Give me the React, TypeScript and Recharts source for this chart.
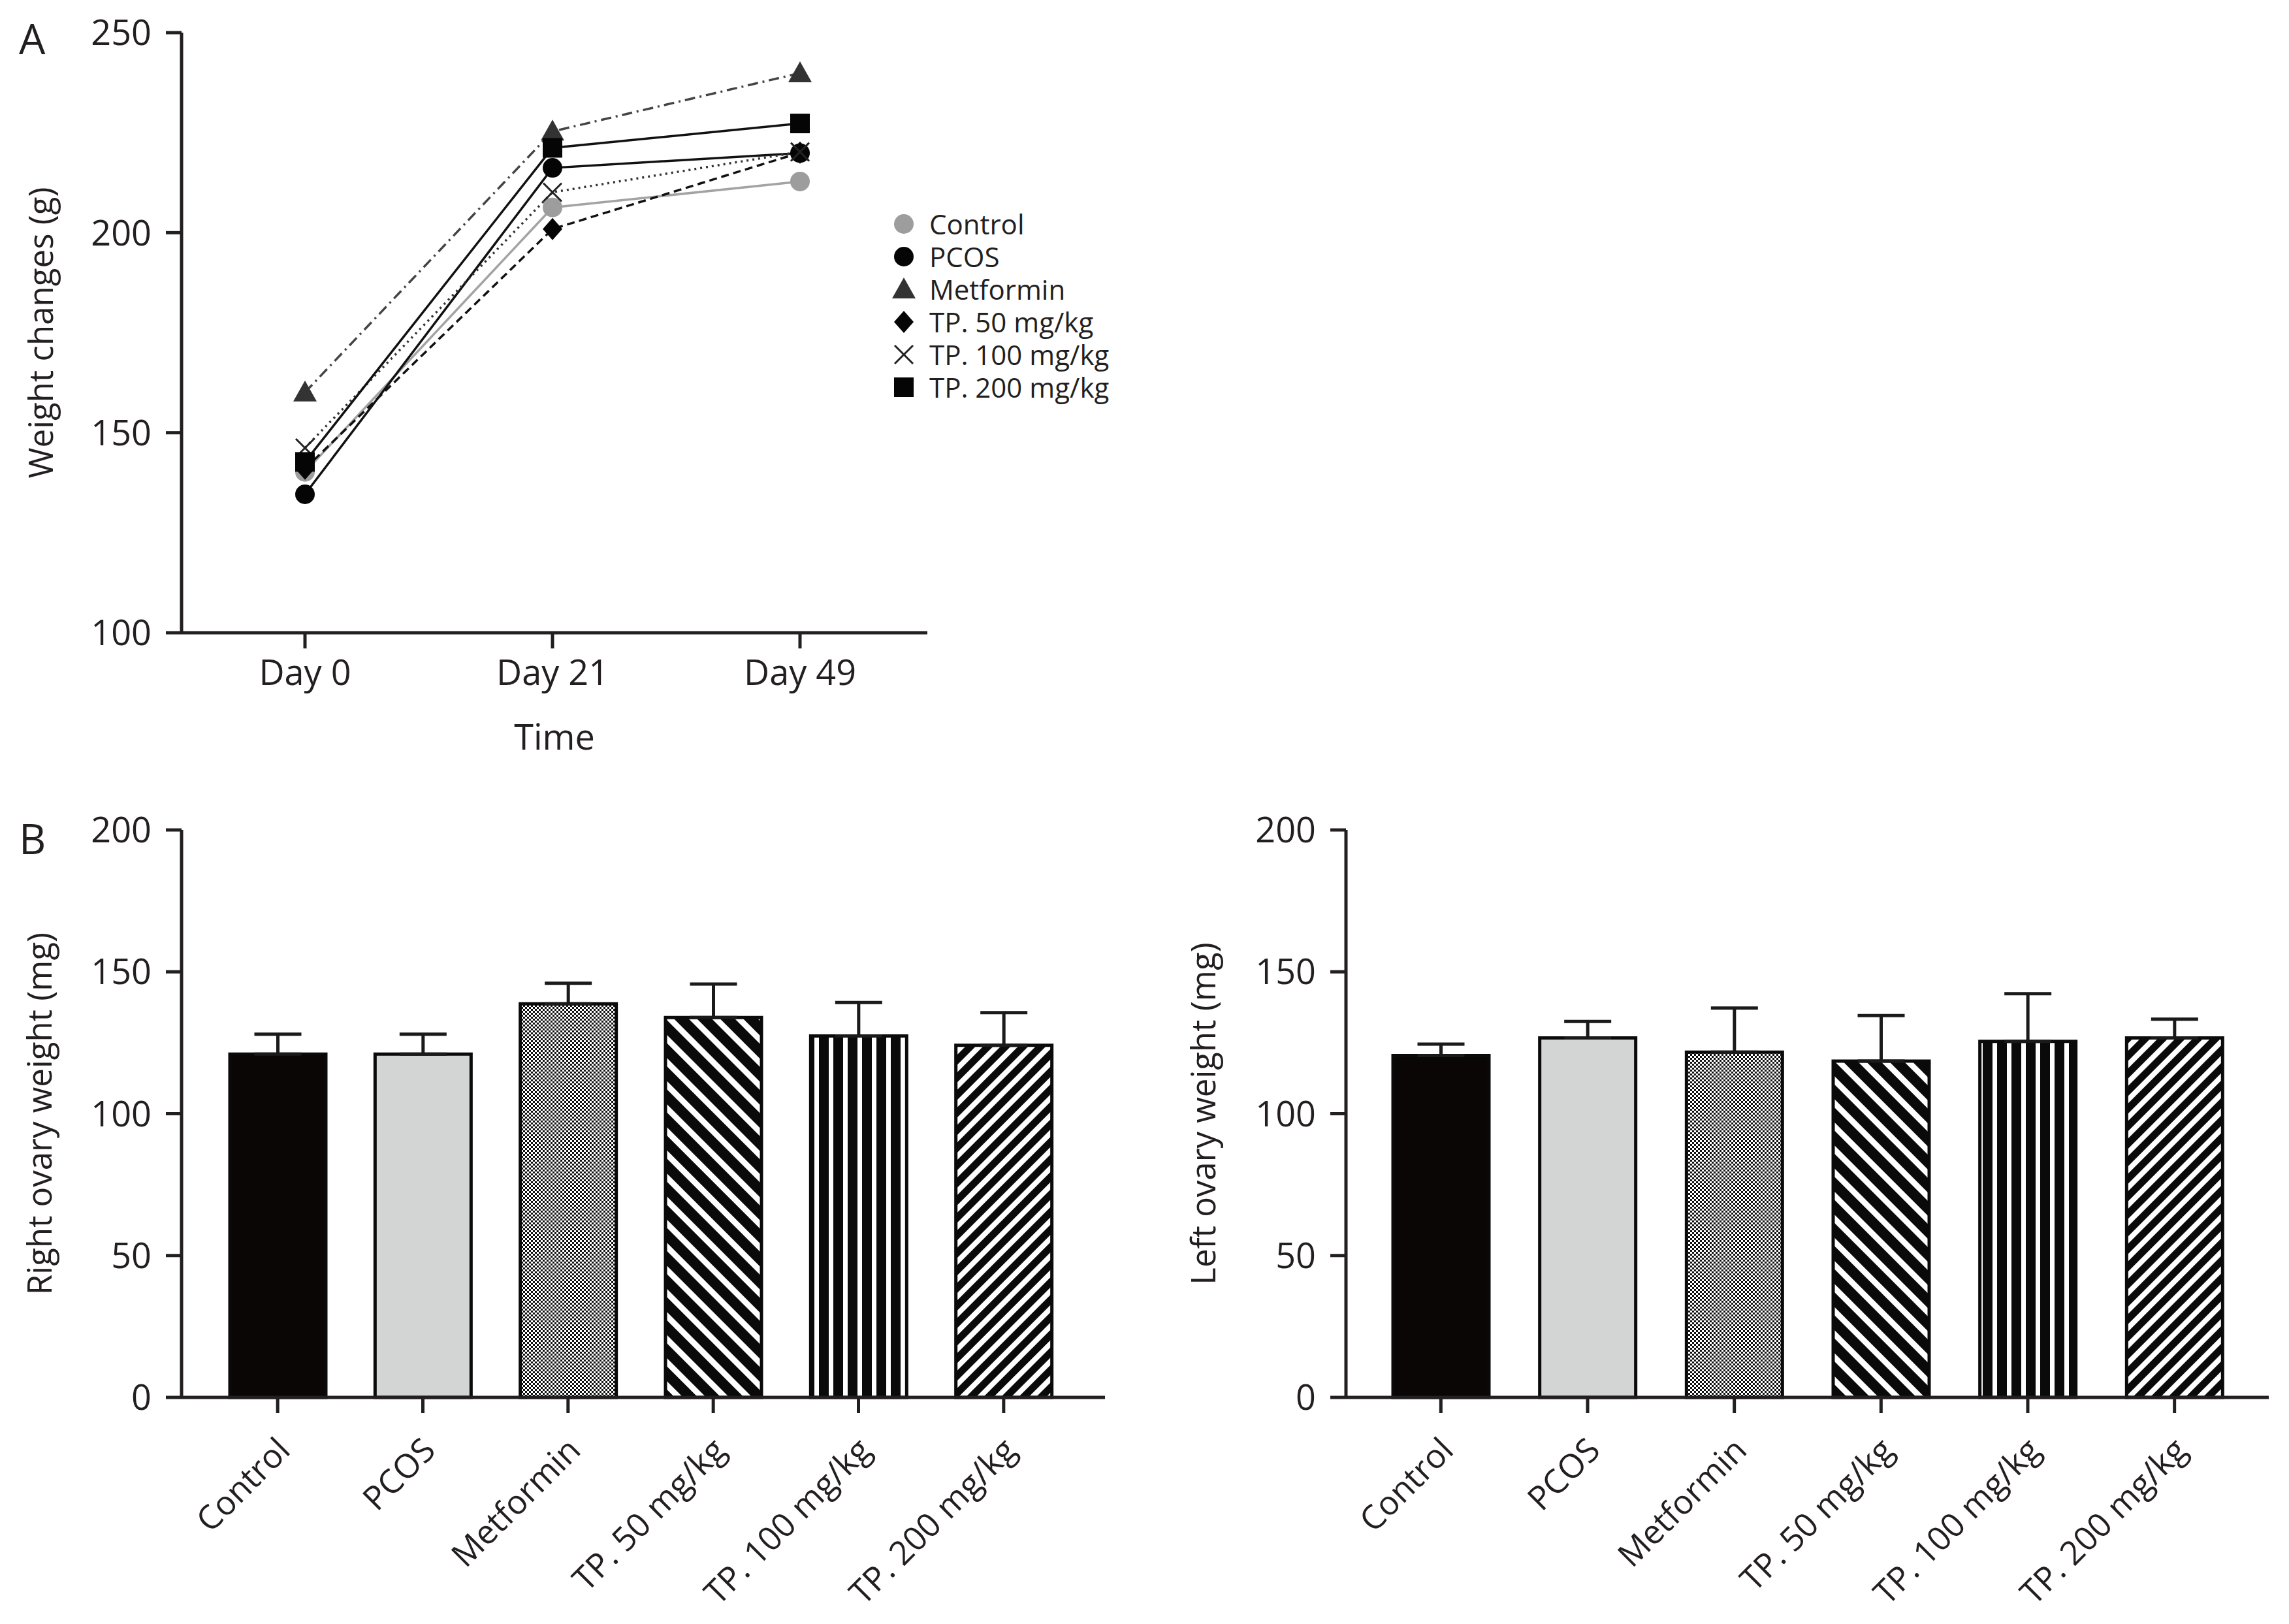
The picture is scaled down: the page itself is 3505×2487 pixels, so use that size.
import React from 'react';
import {
  LineChart,
  Line,
  BarChart,
  Bar,
  Cell,
  ErrorBar,
  XAxis,
  YAxis,
  Legend,
} from 'recharts';

const FONT = "'Open Sans', sans-serif";
const INK = '#231f20';

// panel A: body weight over time (g)
const days = ['Day 0', 'Day 21', 'Day 49'];
const control = [140.2, 206.3, 212.8];
const pcos = [134.6, 216.2, 219.9];
const metformin = [160.1, 225.3, 239.9];
const tp50 = [141.0, 200.9, 220.0];
const tp100 = [146.2, 210.1, 220.2];
const tp200 = [142.7, 221.2, 227.3];
const weightTicks = [100, 150, 200, 250];

// panel B: ovary weight (mg), mean and upper error
const groups = ['Control', 'PCOS', 'Metformin', 'TP. 50 mg/kg', 'TP. 100 mg/kg', 'TP. 200 mg/kg'];
const rightMean = [121.0, 121.0, 138.7, 133.9, 127.4, 124.1];
const rightErr = [7.0, 7.0, 7.3, 11.8, 11.8, 11.5];
const leftMean = [120.5, 126.7, 121.7, 118.5, 125.5, 126.7];
const leftErr = [4.0, 5.8, 15.5, 16.1, 16.8, 6.6];
const ovaryTicks = [0, 50, 100, 150, 200];

const weightData = days.map((day, i) => ({
  day,
  control: control[i],
  pcos: pcos[i],
  metformin: metformin[i],
  tp50: tp50[i],
  tp100: tp100[i],
  tp200: tp200[i],
}));

const rightData = groups.map((name, i) => ({ name, mean: rightMean[i], err: [0, rightErr[i]] }));
const leftData = groups.map((name, i) => ({ name, mean: leftMean[i], err: [0, leftErr[i]] }));

type Shape = 'circle' | 'triangle' | 'diamond' | 'x' | 'square';

const series: { key: string; name: string; shape: Shape; color: string; line: string; dash?: string }[] = [
  { key: 'control', name: 'Control', shape: 'circle', color: '#9d9d9d', line: '#a3a3a3' },
  { key: 'pcos', name: 'PCOS', shape: 'circle', color: '#050505', line: '#111' },
  { key: 'metformin', name: 'Metformin', shape: 'triangle', color: '#333', line: '#444', dash: '16 7 3 7' },
  { key: 'tp50', name: 'TP. 50 mg/kg', shape: 'diamond', color: '#050505', line: '#111', dash: '12 7' },
  { key: 'tp100', name: 'TP. 100 mg/kg', shape: 'x', color: '#222', line: '#333', dash: '3 6' },
  { key: 'tp200', name: 'TP. 200 mg/kg', shape: 'square', color: '#050505', line: '#111' },
];

function Marker({ cx, cy, shape, color }: { cx: number; cy: number; shape: Shape; color: string }) {
  if (shape === 'circle') return <circle cx={cx} cy={cy} r={15} fill={color} />;
  if (shape === 'triangle')
    return <polygon points={`${cx},${cy - 18} ${cx - 18},${cy + 14} ${cx + 18},${cy + 14}`} fill={color} />;
  if (shape === 'diamond')
    return <polygon points={`${cx},${cy - 17} ${cx + 15},${cy} ${cx},${cy + 17} ${cx - 15},${cy}`} fill={color} />;
  if (shape === 'square') return <rect x={cx - 15} y={cy - 15} width={30} height={30} fill={color} />;
  return (
    <g stroke={color} strokeWidth={3}>
      <line x1={cx - 14} y1={cy - 14} x2={cx + 14} y2={cy + 14} />
      <line x1={cx - 14} y1={cy + 14} x2={cx + 14} y2={cy - 14} />
    </g>
  );
}

function WeightLegend(props: any) {
  const order = series.map((s) => s.key);
  const payload = [...(props.payload || [])].sort(
    (a: any, b: any) => order.indexOf(a.dataKey) - order.indexOf(b.dataKey),
  );
  return (
    <div style={{ fontFamily: FONT, fontSize: 42, color: INK }}>
      {payload.map((p: any) => {
        const s = series.find((x) => x.key === p.dataKey) || series[0];
        return (
          <div key={s.key} style={{ display: 'flex', alignItems: 'center', height: 50 }}>
            <svg width={40} height={40} style={{ marginRight: 19 }}>
              <Marker cx={20} cy={20} shape={s.shape} color={s.color} />
            </svg>
            <span style={{ lineHeight: '48px', whiteSpace: 'nowrap' }}>{p.value}</span>
          </div>
        );
      })}
    </div>
  );
}

function yTitle(text: string, dx: number) {
  return (props: any) => {
    const vb = props.viewBox || { x: 0, y: 0, width: 0, height: 0 };
    const x = vb.x + dx;
    const y = vb.y + vb.height / 2;
    return (
      <text x={x} y={y} textAnchor="middle" transform={`rotate(-90 ${x} ${y})`} fontSize={51} fontFamily={FONT} fill={INK}>
        {text}
      </text>
    );
  };
}

function SlantTick(props: any) {
  const { x, y, payload } = props;
  const px = x + 22;
  const py = y + 60;
  return (
    <text x={px} y={py} textAnchor="end" transform={`rotate(-45 ${px} ${py})`} fontSize={51} fontFamily={FONT} fill={INK}>
      {payload.value}
    </text>
  );
}

function Patterns({ id }: { id: string }) {
  return (
    <defs>
      <pattern id={`${id}-check`} width={6} height={6} patternUnits="userSpaceOnUse">
        <rect width={6} height={6} fill="#fff" />
        <rect width={3} height={3} fill="#111" />
        <rect x={3} y={3} width={3} height={3} fill="#111" />
      </pattern>
      <pattern id={`${id}-back`} width={25} height={25} patternUnits="userSpaceOnUse" patternTransform="rotate(-45)">
        <rect width={25} height={25} fill="#fff" />
        <rect width={16} height={25} fill="#0a0a0a" />
      </pattern>
      <pattern id={`${id}-vert`} width={22} height={22} patternUnits="userSpaceOnUse">
        <rect width={22} height={22} fill="#fff" />
        <rect width={15} height={22} fill="#0a0a0a" />
      </pattern>
      <pattern id={`${id}-fwd`} width={19} height={19} patternUnits="userSpaceOnUse" patternTransform="rotate(45)">
        <rect width={19} height={19} fill="#fff" />
        <rect width={11} height={19} fill="#0a0a0a" />
      </pattern>
    </defs>
  );
}

function fillsFor(id: string) {
  return ['#0a0606', '#d3d5d5', `url(#${id}-check)`, `url(#${id}-back)`, `url(#${id}-vert)`, `url(#${id}-fwd)`];
}

const axisStyle = { stroke: INK, strokeWidth: 5 };
const tickFont = { fill: INK, fontSize: 54, fontFamily: FONT };

function OvaryChart({
  id,
  data,
  title,
  width,
  yWidth,
  right,
  padding,
  titleX,
}: {
  id: string;
  data: { name: string; mean: number; err: number[] }[];
  title: string;
  width: number;
  yWidth: number;
  right: number;
  padding: { left: number; right: number };
  titleX: number;
}) {
  const fills = fillsFor(id);
  return (
    <BarChart width={width} height={1287} data={data} margin={{ top: 71, right, bottom: 0, left: 0 }}>
      <Patterns id={id} />
      <XAxis
        dataKey="name"
        height={347}
        padding={padding}
        axisLine={axisStyle}
        tickLine={axisStyle}
        tickSize={24}
        tickMargin={0}
        interval={0}
        tick={SlantTick}
      />
      <YAxis
        width={yWidth}
        domain={[0, 200]}
        ticks={ovaryTicks}
        interval={0}
        axisLine={axisStyle}
        tickLine={axisStyle}
        tickSize={24}
        tickMargin={22}
        tick={tickFont}
        label={yTitle(title, titleX)}
      />
      <Bar dataKey="mean" barSize={147} stroke="#0a0a0a" strokeWidth={5} isAnimationActive={false}>
        {data.map((d, i) => (
          <Cell key={d.name} fill={fills[i]} />
        ))}
        <ErrorBar dataKey="err" direction="y" width={36} stroke="#1a1a1a" strokeWidth={5} />
      </Bar>
    </BarChart>
  );
}

export default function App() {
  return (
    <div style={{ position: 'absolute', left: 0, top: 0, width: 3505, height: 2487, background: '#fff' }}>
      <svg width={3505} height={2487} style={{ position: 'absolute', left: 0, top: 0 }}>
        <text x={29} y={83} fontSize={64} fontFamily={FONT} fill={INK}>A</text>
        <text x={29} y={1308} fontSize={64} fontFamily={FONT} fill={INK}>B</text>
      </svg>

      <div style={{ position: 'absolute', left: 0, top: 0 }}>
        <LineChart width={1800} height={1200} data={weightData} margin={{ top: 50, right: 380, bottom: 0, left: 0 }}>
          <XAxis
            dataKey="day"
            height={231}
            padding={{ left: 189, right: 195 }}
            axisLine={axisStyle}
            tickLine={axisStyle}
            tickSize={24}
            tickMargin={18}
            tick={tickFont}
            label={(props: any) => {
              const vb = props.viewBox || { x: 0, y: 0, width: 0, height: 0 };
              return (
                <text x={vb.x + vb.width / 2} y={vb.y + 179} textAnchor="middle" fontSize={54} fontFamily={FONT} fill={INK}>
                  Time
                </text>
              );
            }}
          />
          <YAxis
            width={278}
            domain={[100, 250]}
            ticks={weightTicks}
            interval={0}
            axisLine={axisStyle}
            tickLine={axisStyle}
            tickSize={24}
            tickMargin={22}
            tick={tickFont}
            label={yTitle('Weight changes (g)', 81)}
          />
          <Legend
            layout="vertical"
            align="center"
            verticalAlign="middle"
            content={WeightLegend}
            wrapperStyle={{ left: 1364, top: 318, width: 420 }}
          />
          {series.map((s) => (
            <Line
              key={s.key}
              dataKey={s.key}
              name={s.name}
              type="linear"
              stroke={s.line}
              strokeWidth={3.5}
              strokeDasharray={s.dash}
              isAnimationActive={false}
              dot={(p: any) => <Marker key={`${s.key}-${p.index}`} cx={p.cx} cy={p.cy} shape={s.shape} color={s.color} />}
              activeDot={false}
            />
          ))}
        </LineChart>
      </div>

      <div style={{ position: 'absolute', left: 0, top: 1200 }}>
        <OvaryChart
          id="right"
          data={rightData}
          title="Right ovary weight (mg)"
          width={1760}
          yWidth={278}
          right={68}
          padding={{ left: 36, right: 44 }}
          titleX={79}
        />
      </div>

      <div style={{ position: 'absolute', left: 1760, top: 1200 }}>
        <OvaryChart
          id="left"
          data={leftData}
          title="Left ovary weight (mg)"
          width={1745}
          yWidth={301}
          right={31}
          padding={{ left: 33, right: 32 }}
          titleX={101}
        />
      </div>
    </div>
  );
}
